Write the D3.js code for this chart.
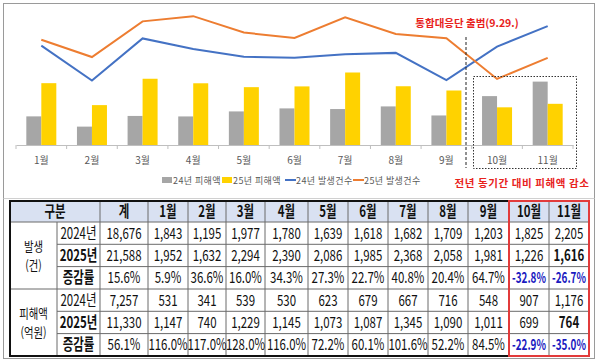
<!DOCTYPE html>
<html>
<head>
<meta charset="utf-8">
<script src="https://cdn.jsdelivr.net/npm/d3@7"></script>
<style>
  body { margin: 0; background: #fff; }
  svg { display: block; font-family: "Noto Sans CJK KR", "Noto Sans", sans-serif; }
</style>
</head>
<body>
<div class="chart"></div>
<script>
// data
let months = ['1월', '2월', '3월', '4월', '5월', '6월', '7월', '8월', '9월', '10월', '11월']
let dmg24 = [531, 341, 539, 530, 623, 679, 667, 716, 548, 907, 1176]
let dmg25 = [1147, 740, 1229, 1145, 1073, 1087, 1345, 1090, 1011, 699, 764]
let cnt24 = [1843, 1195, 1977, 1780, 1639, 1618, 1682, 1709, 1203, 1825, 2205]
let cnt25 = [1952, 1632, 2294, 2390, 2086, 1985, 2368, 2058, 1981, 1226, 1616]
let cntRate = ['5.9%', '36.6%', '16.0%', '34.3%', '27.3%', '22.7%', '40.8%', '20.4%', '64.7%', '-32.8%', '-26.7%']
let dmgRate = ['116.0%', '117.0%', '128.0%', '116.0%', '72.2%', '60.1%', '101.6%', '52.2%', '84.5%', '-22.9%', '-35.0%']
let totals = { cnt24: 18676, cnt25: 21588, cntRate: '15.6%', dmg24: 7257, dmg25: 11330, dmgRate: '56.1%' }
let legendNames = ['24년 피해액', '25년 피해액', '24년 발생건수', '25년 발생건수']

let svg = d3.select('.chart').append('svg').attr('width', 600).attr('height', 363)

// outer frame
svg.append('rect').attr('x', 3.5).attr('y', 3.5).attr('width', 591).attr('height', 355)
    .attr('fill', 'none').attr('stroke', '#9a9a9a')
svg.append('line').attr('x1', 3.5).attr('x2', 594.5).attr('y1', 198.5).attr('y2', 198.5)
    .attr('stroke', '#d0d0d0')

// ---------- chart ----------
let x = d3.scaleBand().domain(months).range([16, 573])
let sub = d3.scaleBand().domain(['a', 'b']).range([0, 30])
let y = d3.scaleLinear().domain([0, 2690]).range([145, 0])
let barOff = (x.bandwidth() - 30) / 2

let g = svg.append('g')

g.selectAll('.b24').data(dmg24).join('rect')
    .attr('x', (d, i) => x(months[i]) + barOff + sub('a'))
    .attr('y', d => y(d))
    .attr('width', sub.bandwidth())
    .attr('height', d => y(0) - y(d))
    .attr('fill', '#a6a6a6')

g.selectAll('.b25').data(dmg25).join('rect')
    .attr('x', (d, i) => x(months[i]) + barOff + sub('b'))
    .attr('y', d => y(d))
    .attr('width', sub.bandwidth())
    .attr('height', d => y(0) - y(d))
    .attr('fill', '#ffd200')

// axis
let axis = g.append('g').attr('transform', 'translate(0,' + y(0) + ')')
    .call(d3.axisBottom(x).tickSize(0).tickPadding(12))
axis.select('.domain').attr('stroke', '#bfbfbf')
axis.selectAll('text').attr('font-size', 10).attr('fill', '#595959')
    .attr('font-family', '"Noto Sans CJK KR", sans-serif')
axis.selectAll('.edge').data(months.concat(['end'])).join('line')
    .attr('x1', (d, i) => i < months.length ? x(d) : x.range()[1])
    .attr('x2', (d, i) => i < months.length ? x(d) : x.range()[1])
    .attr('y1', 0).attr('y2', 4).attr('stroke', '#bfbfbf')

let line = d3.line().x((d, i) => x(months[i]) + x.bandwidth() / 2).y(d => y(d))
g.append('path').datum(cnt24).attr('d', line).attr('fill', 'none')
    .attr('stroke', '#4472c4').attr('stroke-width', 2)
g.append('path').datum(cnt25).attr('d', line).attr('fill', 'none')
    .attr('stroke', '#ed7d31').attr('stroke-width', 2)

// annotations
svg.append('line').attr('x1', 466).attr('x2', 466).attr('y1', 37).attr('y2', 168)
    .attr('stroke', '#222').attr('stroke-dasharray', '3,2')
svg.append('rect').attr('x', 473.5).attr('y', 76.5).attr('width', 103).attr('height', 92)
    .attr('fill', 'none').attr('stroke', '#333').attr('stroke-dasharray', '1.5,1.5')
svg.append('text').text('통합대응단 출범(9.29.)')
    .attr('x', 467).attr('y', 27).attr('text-anchor', 'middle')
    .attr('font-size', 10.5).attr('font-weight', 'bold').attr('fill', '#e8221c')
svg.append('text').text('전년 동기간 대비 피해액 감소')
    .attr('x', 522).attr('y', 187).attr('text-anchor', 'middle')
    .attr('font-size', 10.5).attr('font-weight', 'bold').attr('fill', '#e8221c')
    .attr('letter-spacing', 0.6)

// legend
let legX = [162, 222, 285, 353]
let legColor = ['#a6a6a6', '#ffd200', '#4472c4', '#ed7d31']
legendNames.forEach(function (name, i) {
    if (i < 2) {
        svg.append('rect').attr('x', legX[i]).attr('y', 177).attr('width', 10).attr('height', 6)
            .attr('fill', legColor[i])
    } else {
        svg.append('line').attr('x1', legX[i]).attr('x2', legX[i] + 11).attr('y1', 180).attr('y2', 180)
            .attr('stroke', legColor[i]).attr('stroke-width', 2)
    }
    svg.append('text').text(name).attr('x', legX[i] + 11).attr('y', 183.5)
        .attr('font-size', 9).attr('fill', '#595959').attr('letter-spacing', 0.4)
})

// ---------- table ----------
let colX = [10, 57, 100, 148, 188, 226, 265, 308, 348, 388, 428, 468, 509, 549, 589]
let rowY = [201, 222, 244.3, 266.6, 289, 311.3, 333.6, 356]
let tb = svg.append('g')
let fmt = d3.format(',')

tb.append('rect').attr('x', colX[0]).attr('y', rowY[0])
    .attr('width', colX[14] - colX[0]).attr('height', rowY[1] - rowY[0]).attr('fill', '#d9e1f2')

// horizontal grid lines (group column only split at group boundary)
rowY.slice(1, 7).forEach(function (yy, r) {
    let x0 = (r === 0 || r === 3) ? colX[0] : colX[1]
    tb.append('line').attr('x1', x0).attr('x2', colX[14]).attr('y1', yy).attr('y2', yy)
        .attr('stroke', '#6b6b6b').attr('stroke-width', 1)
})
// vertical grid lines
colX.slice(1, 14).forEach(function (xx, c) {
    tb.append('line').attr('x1', xx).attr('x2', xx)
        .attr('y1', c === 0 ? rowY[1] : rowY[0]).attr('y2', rowY[7])
        .attr('stroke', '#6b6b6b').attr('stroke-width', 1)
})
tb.append('rect').attr('x', colX[0]).attr('y', rowY[0])
    .attr('width', colX[14] - colX[0]).attr('height', rowY[7] - rowY[0])
    .attr('fill', 'none').attr('stroke', '#111').attr('stroke-width', 2)
tb.append('rect').attr('x', colX[12]).attr('y', rowY[0])
    .attr('width', colX[14] - colX[12]).attr('height', rowY[7] - rowY[0])
    .attr('fill', 'none').attr('stroke', '#e23b3b').attr('stroke-width', 2)

function cell(cx, cy, str, bold, color, size, sx) {
    tb.append('text').text(str)
        .attr('transform', 'translate(' + cx + ',' + cy + ') scale(' + (sx || 0.74) + ',1)')
        .attr('text-anchor', 'middle').attr('dy', '0.36em')
        .attr('font-size', size || 15.5).attr('font-weight', bold ? 'bold' : 'normal')
        .attr('fill', color || '#111')
}
let mid = (a, b) => (a + b) / 2

// header
cell(mid(colX[0], colX[2]), mid(rowY[0], rowY[1]), '구분', true)
let heads = ['계'].concat(months)
heads.forEach((h, i) => cell(mid(colX[i + 2], colX[i + 3]), mid(rowY[0], rowY[1]), h, true))

// group labels (two lines)
let gc = mid(colX[0], colX[1])
cell(gc, mid(rowY[1], rowY[4]) - 9.5, '발생', false, '#111', 13, 0.8)
cell(gc, mid(rowY[1], rowY[4]) + 9.5, '(건)', false, '#111', 13, 0.8)
cell(gc, mid(rowY[4], rowY[7]) - 9.5, '피해액', false, '#111', 13, 0.8)
cell(gc, mid(rowY[4], rowY[7]) + 9.5, '(억원)', false, '#111', 13, 0.8)

let rows = [
    { label: '2024년', bold: false, total: fmt(totals.cnt24), vals: cnt24.map(fmt) },
    { label: '2025년', bold: true, total: fmt(totals.cnt25), vals: cnt25.map(fmt) },
    { label: '증감률', bold: true, total: totals.cntRate, vals: cntRate },
    { label: '2024년', bold: false, total: fmt(totals.dmg24), vals: dmg24.map(fmt) },
    { label: '2025년', bold: true, total: fmt(totals.dmg25), vals: dmg25.map(fmt) },
    { label: '증감률', bold: true, total: totals.dmgRate, vals: dmgRate }
]
rows.forEach(function (row, r) {
    let cy = mid(rowY[r + 1], rowY[r + 2])
    cell(mid(colX[1], colX[2]), cy, row.label, row.bold)
    cell(mid(colX[2], colX[3]), cy, row.total, false)
    row.vals.forEach(function (v, i) {
        let neg = v[0] === '-'
        let boldLast = (r === 1 || r === 4) && i === 10
        cell(mid(colX[i + 3], colX[i + 4]), cy, v, neg || boldLast,
            neg ? '#1a1abf' : '#111', neg ? 15 : 15.5, neg ? 0.66 : 0.74)
    })
})
</script>
</body>
</html>
